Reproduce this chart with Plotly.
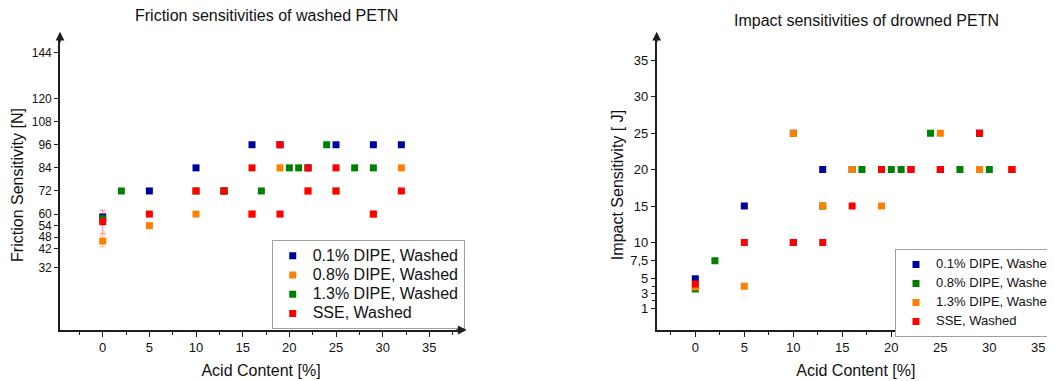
import plotly.graph_objects as go

# The page body has an 8px default margin; lay out in screen pixels and offset.
OFF = 8
W, H = 1047, 373
FONT = "Liberation Sans, Arial, sans-serif"

# ---------------- Friction (left) data ----------------
fr_x_01 = [0, 5, 10, 13, 16, 19, 22, 25, 29, 32]
fr_y_01 = [58.5, 72, 84, 72, 96, 96, 84, 96, 96, 96]
fr_e_01 = [1.5, None, None, None, None, None, None, None, None, None]

fr_x_08 = [0, 5, 10, 13, 16, 19, 22, 25, 29, 32]
fr_y_08 = [46, 54, 60, 72, 60, 84, 72, 72, 60, 84]
fr_e_08 = [3, None, None, None, None, None, None, None, None, None]

fr_x_13 = [0, 2, 10, 13, 17, 20, 21, 24, 27, 29]
fr_y_13 = [57.5, 72, 72, 72, 72, 84, 84, 96, 84, 84]
fr_e_13 = [2, None, None, None, None, None, None, None, None, None]

fr_x_sse = [0, 5, 10, 13, 16, 16, 19, 19, 22, 22, 25, 25, 29, 32]
fr_y_sse = [56, 60, 72, 72, 84, 60, 96, 60, 84, 72, 84, 72, 60, 72]
fr_e_sse = [6] + [None] * 13

fr_yticks = [32, 42, 48, 54, 60, 72, 84, 96, 108, 120, 144]
x_ticks = [0, 5, 10, 15, 20, 25, 30, 35]

# ---------------- Impact (right) data ----------------
im_x_01 = [0, 5, 10, 13, 16, 19, 22, 25, 29, 32.3]
im_y_01 = [5, 15, 10, 20, 20, 20, 20, 20, 25, 20]

im_x_08 = [0, 2, 10, 13, 17, 20, 21, 24, 27, 30]
im_y_08 = [3.6, 7.5, 25, 15, 20, 20, 20, 25, 20, 20]

im_x_13 = [0, 5, 10, 13, 16, 19, 22, 25, 29, 32.3]
im_y_13 = [3.9, 4, 25, 15, 20, 15, 20, 25, 20, 20]

im_x_sse = [0, 5, 10, 13, 16, 19, 22, 25, 29, 32.3]
im_y_sse = [4.3, 10, 10, 10, 15, 20, 20, 20, 25, 20]

im_yticks = [1, 3, 5, 7.5, 10, 15, 20, 25, 30, 35]
im_yticktext = ["1", "3", "5", "7,5", "10", "15", "20", "25", "30", "35"]

C_BLUE = "#00009C"
C_ORANGE = "#FF8000"
C_GREEN = "#008000"
C_RED = "#FF0000"


def rgba(hexc, a):
    h = hexc.lstrip("#")
    return "rgba(%d,%d,%d,%.2f)" % (int(h[0:2], 16), int(h[2:4], 16), int(h[4:6], 16), a)


def lname(text, size):
    return '<span style="font-size:%dpx">%s</span>' % (size, text)


fig = go.Figure()

left_series = [
    ("0.1% DIPE, Washed", fr_x_01, fr_y_01, fr_e_01, C_BLUE),
    ("0.8% DIPE, Washed", fr_x_08, fr_y_08, fr_e_08, C_ORANGE),
    ("1.3% DIPE, Washed", fr_x_13, fr_y_13, fr_e_13, C_GREEN),
    ("SSE, Washed", fr_x_sse, fr_y_sse, fr_e_sse, C_RED),
]
for name, xs, ys, es, col in left_series:
    fig.add_trace(go.Scatter(
        x=xs, y=ys, mode="markers", name=lname(name, 16),
        marker=dict(symbol="square", size=7, color=col),
        error_y=dict(type="data", array=es, visible=True, color=rgba(col, 0.45),
                     thickness=1, width=3),
        xaxis="x", yaxis="y", legend="legend",
    ))

right_series = [
    ("0.1% DIPE, Washed", im_x_01, im_y_01, C_BLUE),
    ("0.8% DIPE, Washed", im_x_08, im_y_08, C_GREEN),
    ("1.3% DIPE, Washed", im_x_13, im_y_13, C_ORANGE),
    ("SSE, Washed", im_x_sse, im_y_sse, C_RED),
]
for name, xs, ys, col in right_series:
    fig.add_trace(go.Scatter(
        x=xs, y=ys, mode="markers", name=lname(name, 13),
        marker=dict(symbol="square", size=7, color=col),
        xaxis="x2", yaxis="y2", legend="legend2",
    ))


# screen-pixel -> paper helpers
def px_x(p):
    return (p - OFF) / W


def px_y(p):
    return 1 - (p - OFF) / H


YDOM = [px_y(330), px_y(40)]
AX_COL = "#1e1e1e"
axis_common = dict(
    showline=True, linecolor=AX_COL, linewidth=1.6, mirror=False,
    showgrid=False, zeroline=False, ticks="outside", tickcolor=AX_COL,
    tickwidth=1.3,
)
TITLE_FONT = dict(family=FONT, size=16, color="#111")

fig.update_layout(
    width=W, height=H,
    paper_bgcolor="white", plot_bgcolor="white",
    margin=dict(l=0, r=0, t=0, b=0, autoexpand=False),
    font=dict(family=FONT, color="#111"),
    xaxis=dict(
        domain=[px_x(60), px_x(462)], range=[-4.575, 38.5], anchor="y",
        tickmode="array", tickvals=x_ticks, ticklen=5,
        tickfont=dict(family=FONT, size=13, color="#111"),
        minor=dict(tickmode="array", tickvals=[-2.5, 2.5, 7.5, 12.5, 17.5, 22.5, 27.5, 32.5, 37.5],
                   ticks="outside", ticklen=3, tickcolor=AX_COL, tickwidth=1.3),
        title=dict(text="Acid Content [%]", font=TITLE_FONT, standoff=10),
        **axis_common,
    ),
    yaxis=dict(
        domain=YDOM, range=[-0.2, 150.4], anchor="x",
        tickmode="array", tickvals=fr_yticks, ticklen=4,
        tickfont=dict(family=FONT, size=12, color="#111"),
        title=dict(text="Friction Sensitivity [N]", font=TITLE_FONT, standoff=4),
        **axis_common,
    ),
    xaxis2=dict(
        domain=[px_x(656.7), 1.0], range=[-3.94, 36.7], anchor="y2",
        tickmode="array", tickvals=x_ticks, ticklen=5,
        tickfont=dict(family=FONT, size=13, color="#111"),
        minor=dict(tickmode="array", tickvals=[-2.5, 2.5, 7.5, 12.5, 17.5, 22.5, 27.5, 32.5],
                   ticks="outside", ticklen=3, tickcolor=AX_COL, tickwidth=1.3),
        title=dict(text="Acid Content [%]", font=TITLE_FONT, standoff=10),
        **axis_common,
    ),
    yaxis2=dict(
        domain=YDOM, range=[-2.02, 37.79], anchor="x2",
        tickmode="array", tickvals=im_yticks, ticktext=im_yticktext, ticklen=4,
        tickfont=dict(family=FONT, size=13, color="#111"),
        minor=dict(tickmode="array", tickvals=[2, 4], ticks="outside", ticklen=3,
                   tickcolor=AX_COL, tickwidth=1.3),
        title=dict(text="Impact Sensitivity [ J]", font=TITLE_FONT, standoff=3),
        **axis_common,
    ),
    legend=dict(
        x=px_x(271.7), y=px_y(240), xanchor="left", yanchor="top",
        bgcolor="white", bordercolor="#A0A0A0", borderwidth=1,
        font=dict(family=FONT, size=12.5, color="#111"), traceorder="normal",
    ),
    legend2=dict(
        x=px_x(895), y=px_y(249), xanchor="left", yanchor="top",
        bgcolor="white", bordercolor="#A0A0A0", borderwidth=1,
        font=dict(family=FONT, size=9.8, color="#111"), traceorder="normal",
    ),
    showlegend=True,
)

# plot titles
fig.add_annotation(text="Friction sensitivities of washed PETN", xref="paper", yref="paper",
                   x=px_x(266), y=px_y(15), xanchor="center", yanchor="middle", showarrow=False,
                   font=TITLE_FONT)
fig.add_annotation(text="Impact sensitivities of drowned PETN", xref="paper", yref="paper",
                   x=px_x(866), y=px_y(20), xanchor="center", yanchor="middle", showarrow=False,
                   font=TITLE_FONT)

# axis arrows
arrow = dict(text="", showarrow=True, arrowhead=2, arrowsize=1.1, arrowwidth=1.6,
             arrowcolor=AX_COL, standoff=0, startstandoff=0)
fig.add_annotation(xref="x domain", yref="y domain", x=0, y=1 + 8.3 / 290, ax=0, ay=12, **arrow)
fig.add_annotation(xref="x domain", yref="y domain", x=1 + 4.7 / 402, y=0, ax=-12, ay=0, **arrow)
fig.add_annotation(xref="x2 domain", yref="y2 domain", x=0, y=1 + 8.3 / 290, ax=0, ay=12, **arrow)

fig.write_html("out.html", config={"displayModeBar": False})
